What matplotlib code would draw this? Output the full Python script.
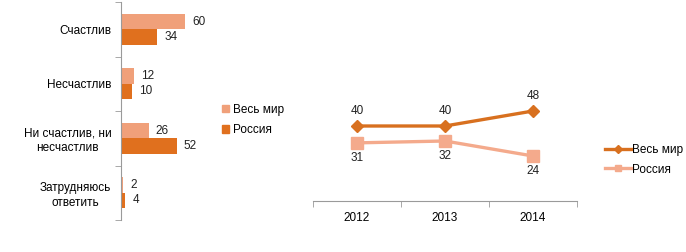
import matplotlib
matplotlib.use("Agg")
import matplotlib.pyplot as plt
from matplotlib.lines import Line2D
from matplotlib.patches import Patch

plt.rcParams['font.family'] = ['Liberation Sans', 'DejaVu Sans']

categories = ["Счастлив", "Несчастлив", "Ни счастлив, ни\nнесчастлив", "Затрудняюсь\nответить"]
world_bar = [60, 12, 26, 2]
russia_bar = [34, 10, 52, 4]

years = ["2012", "2013", "2014"]
world_line = [40, 40, 48]
russia_line = [31, 32, 24]

series_names = ["Весь мир", "Россия"]

light = "#F0A07A"
dark = "#E0701E"
line_dark = "#D8701F"
line_light = "#F4AA8C"
axis_col = "#9A9A9A"

W, H = 686, 252
fig = plt.figure(figsize=(W / 100, H / 100), dpi=100)

# ---- left bar chart ----
ax1 = fig.add_axes([121 / W, (H - 220) / H, 75 / W, 218 / H])
pos = list(range(len(categories)))
bh = 0.28
ax1.barh([p - bh / 2 for p in pos], world_bar, height=bh, color=light, label=series_names[0])
ax1.barh([p + bh / 2 for p in pos], russia_bar, height=bh, color=dark, label=series_names[1])
ax1.set_xlim(0, 70)
ax1.set_ylim(3.5, -0.5)
for s in ["top", "right", "bottom"]:
    ax1.spines[s].set_visible(False)
ax1.spines["left"].set_color(axis_col)
ax1.set_xticks([])
ax1.set_yticks(pos)
ax1.set_yticklabels(categories, fontsize=8.5, linespacing=1.25, multialignment="center")
ax1.tick_params(axis="y", which="major", length=0, pad=7)
ax1.set_yticks([-0.5, 0.5, 1.5, 2.5, 3.5], minor=True)
ax1.tick_params(axis="y", which="minor", length=4, color=axis_col)
for p, v in zip(pos, world_bar):
    ax1.annotate(str(v), (v, p - bh / 2), xytext=(5, 0), textcoords="offset points",
                 va="center", ha="left", fontsize=8.5, color="#222222")
for p, v in zip(pos, russia_bar):
    ax1.annotate(str(v), (v, p + bh / 2), xytext=(5, 0), textcoords="offset points",
                 va="center", ha="left", fontsize=8.5, color="#222222")
fig.legend(handles=[Patch(color=light), Patch(color=dark)], labels=series_names,
           loc="center left", bbox_to_anchor=(216 / W, 1 - 120 / H), frameon=False,
           fontsize=8.5, handlelength=0.6, handleheight=0.6, handletextpad=0.3,
           labelspacing=0.7, borderpad=0)

# ---- right line chart ----
ax2 = fig.add_axes([313 / W, (H - 201) / H, 264 / W, 112.5 / H])
xs = list(range(len(years)))
ax2.plot(xs, world_line, color=line_dark, lw=2.4, marker="D", ms=6, label=series_names[0])
ax2.plot(xs, russia_line, color=line_light, lw=2.4, marker="s", ms=8, label=series_names[1])
ax2.set_xlim(-0.5, 2.5)
ax2.set_ylim(0, 60)
for s in ["top", "right", "left"]:
    ax2.spines[s].set_visible(False)
ax2.spines["bottom"].set_color(axis_col)
ax2.set_yticks([])
ax2.set_xticks(xs)
ax2.set_xticklabels(years, fontsize=8.5)
ax2.tick_params(axis="x", which="major", length=0, pad=8)
ax2.set_xticks([-0.5, 0.5, 1.5, 2.5], minor=True)
ax2.tick_params(axis="x", which="minor", length=4, color=axis_col)
for x, v in zip(xs, world_line):
    ax2.annotate(str(v), (x, v), xytext=(0, 11), textcoords="offset points",
                 ha="center", va="center", fontsize=8.5, color="#222222")
for x, v in zip(xs, russia_line):
    ax2.annotate(str(v), (x, v), xytext=(0, -11), textcoords="offset points",
                 ha="center", va="center", fontsize=8.5, color="#222222")
fig.legend(handles=[Line2D([], [], color=line_dark, lw=2.4, marker="D", ms=4),
                    Line2D([], [], color=line_light, lw=2.4, marker="s", ms=5)],
           labels=series_names, loc="center left", bbox_to_anchor=(599 / W, 1 - 160 / H),
           frameon=False, fontsize=8.5, handlelength=2.2, handletextpad=0.1,
           labelspacing=0.6, borderpad=0)

fig.savefig("out.png", dpi=100)
